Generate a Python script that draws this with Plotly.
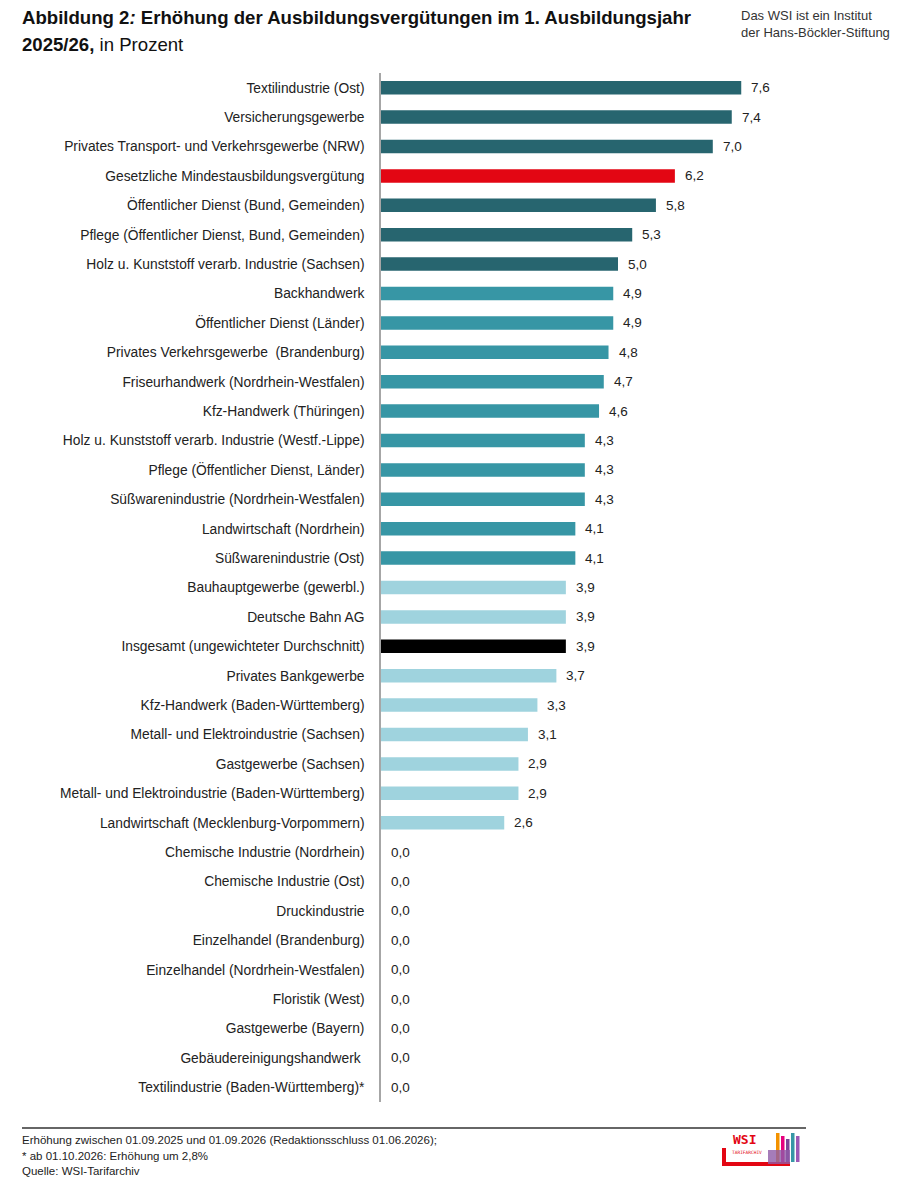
import plotly.graph_objects as go

# Branchen (von oben nach unten) und Erhöhung in Prozent
branchen = [
    "Textilindustrie (Ost)",
    "Versicherungsgewerbe",
    "Privates Transport- und Verkehrsgewerbe (NRW)",
    "Gesetzliche Mindestausbildungsvergütung",
    "Öffentlicher Dienst (Bund, Gemeinden)",
    "Pflege (Öffentlicher Dienst, Bund, Gemeinden)",
    "Holz u. Kunststoff verarb. Industrie (Sachsen)",
    "Backhandwerk",
    "Öffentlicher Dienst (Länder)",
    "Privates Verkehrsgewerbe  (Brandenburg)",
    "Friseurhandwerk (Nordrhein-Westfalen)",
    "Kfz-Handwerk (Thüringen)",
    "Holz u. Kunststoff verarb. Industrie (Westf.-Lippe)",
    "Pflege (Öffentlicher Dienst, Länder)",
    "Süßwarenindustrie (Nordrhein-Westfalen)",
    "Landwirtschaft (Nordrhein)",
    "Süßwarenindustrie (Ost)",
    "Bauhauptgewerbe (gewerbl.)",
    "Deutsche Bahn AG",
    "Insgesamt (ungewichteter Durchschnitt)",
    "Privates Bankgewerbe",
    "Kfz-Handwerk (Baden-Württemberg)",
    "Metall- und Elektroindustrie (Sachsen)",
    "Gastgewerbe (Sachsen)",
    "Metall- und Elektroindustrie (Baden-Württemberg)",
    "Landwirtschaft (Mecklenburg-Vorpommern)",
    "Chemische Industrie (Nordrhein)",
    "Chemische Industrie (Ost)",
    "Druckindustrie",
    "Einzelhandel (Brandenburg)",
    "Einzelhandel (Nordrhein-Westfalen)",
    "Floristik (West)",
    "Gastgewerbe (Bayern)",
    "Gebäudereinigungshandwerk ",
    "Textilindustrie (Baden-Württemberg)*",
]
erhoehung = [7.6, 7.4, 7.0, 6.2, 5.8, 5.3, 5.0, 4.9, 4.9, 4.8, 4.7, 4.6, 4.3, 4.3,
             4.3, 4.1, 4.1, 3.9, 3.9, 3.9, 3.7, 3.3, 3.1, 2.9, 2.9, 2.6,
             0.0, 0.0, 0.0, 0.0, 0.0, 0.0, 0.0, 0.0, 0.0]
# Farbgruppe je Balken
gruppe = ["dunkel"] * 3 + ["mindest"] + ["dunkel"] * 3 + ["mittel"] * 10 + \
         ["hell"] * 2 + ["gesamt"] + ["hell"] * 6 + ["hell"] * 9

farben = {"dunkel": "#27656f", "mittel": "#3796a5", "hell": "#9fd3de",
          "mindest": "#e30613", "gesamt": "#000000"}

fussnote = [
    "Erhöhung zwischen 01.09.2025 und 01.09.2026 (Redaktionsschluss 01.06.2026);",
    "* ab 01.10.2026: Erhöhung um 2,8%",
    "Quelle: WSI-Tarifarchiv",
]

# page size; the html body adds an 8px margin around the figure
W, H, OFF = 909, 1187, 8
FW, FH = W - 2 * OFF, H - 2 * OFF
# plot area in page pixels
L, R, T, B = 381, 800, 73, 1102
FONT = "Liberation Sans, Arial, sans-serif"


def px(x):
    return (x - L) / (R - L)


def py(y):
    return (B - y) / (B - T)


fig = go.Figure()
fig.add_trace(go.Bar(
    x=erhoehung, y=branchen, orientation="h",
    marker=dict(color=[farben[g] for g in gruppe], line=dict(width=0)),
    width=0.46, hoverinfo="skip",
))

annotations = []
for b, v in zip(branchen, erhoehung):
    annotations.append(dict(x=v, y=b, xref="x", yref="y", text=f"{v:.1f}".replace(".", ","),
                            showarrow=False, xanchor="left", xshift=8,
                            font=dict(size=13.5, color="#222222", family=FONT)))

# Titel
annotations.append(dict(
    x=px(20), y=py(18), xref="paper", yref="paper", xanchor="left", yanchor="middle",
    showarrow=False,
    text="<b>Abbildung 2<i>:</i> Erhöhung der Ausbildungsvergütungen im 1. Ausbildungsjahr</b>",
    font=dict(size=18.6, color="#111111", family=FONT)))
annotations.append(dict(
    x=px(20), y=py(45), xref="paper", yref="paper", xanchor="left", yanchor="middle",
    showarrow=False, text="<b>2025/26,</b> in Prozent",
    font=dict(size=18.6, color="#111111", family=FONT)))
# Hinweis oben rechts
annotations.append(dict(
    x=px(739), y=py(6), xref="paper", yref="paper", xanchor="left", yanchor="top",
    align="left", showarrow=False,
    text="Das WSI ist ein Institut<br>der Hans-Böckler-Stiftung",
    font=dict(size=13, color="#333333", family=FONT)))
# Fußnote
for i, zeile in enumerate(fussnote):
    annotations.append(dict(
        x=px(20), y=py(1140 + i * 15.5), xref="paper", yref="paper", xanchor="left",
        yanchor="middle", showarrow=False, text=zeile,
        font=dict(size=11.5, color="#222222", family=FONT)))
# Logo-Schrift
annotations.append(dict(
    x=px(731), y=py(1130), xref="paper", yref="paper", xanchor="left", yanchor="top",
    showarrow=False, text="<b>WSI</b>",
    font=dict(size=13, color="#e30613", family="DejaVu Sans Mono")))
annotations.append(dict(
    x=px(730), y=py(1148), xref="paper", yref="paper", xanchor="left", yanchor="top",
    showarrow=False, text="TARIFARCHIV",
    font=dict(size=4.5, color="#e30613", family="DejaVu Sans Mono")))

shapes = [
    # Trennlinie über der Fußnote
    dict(type="line", xref="paper", yref="paper", x0=px(22), x1=px(806),
         y0=py(1128), y1=py(1128), line=dict(color="#333333", width=1.5)),
    # Logo
    dict(type="rect", xref="paper", yref="paper", x0=px(722), x1=px(790),
         y0=py(1166), y1=py(1162), fillcolor="#e30613", line=dict(width=0)),
    dict(type="rect", xref="paper", yref="paper", x0=px(722), x1=px(726),
         y0=py(1166), y1=py(1148), fillcolor="#e30613", line=dict(width=0)),
]
for i, c in enumerate(["#f39200", "#e6007e", "#7b4397", "#3797a6", "#9b59b6"]):
    x0 = 776 + i * 5
    shapes.append(dict(type="rect", xref="paper", yref="paper", x0=px(x0), x1=px(x0 + 3.5),
                       y0=py(1162), y1=py(1133 + (i % 3) * 3), fillcolor=c, line=dict(width=0)))
shapes.append(dict(type="rect", xref="paper", yref="paper", x0=px(768), x1=px(790),
                   y0=py(1164), y1=py(1150), fillcolor="#8e5ba8", line=dict(width=0), opacity=0.8))

fig.update_layout(
    width=FW, height=FH,
    margin=dict(l=L - OFF, r=FW - (R - OFF), t=T - OFF, b=FH - (B - OFF)),
    paper_bgcolor="white", plot_bgcolor="white",
    showlegend=False,
    xaxis=dict(range=[0, (R - L) / 47.4], visible=False, fixedrange=True),
    yaxis=dict(autorange="reversed", showline=True, linecolor="#a6a6a6", linewidth=1.5,
               ticks="", ticklabelstandoff=12, showgrid=False, zeroline=False,
               tickfont=dict(size=13.8, color="#222222", family=FONT)),
    annotations=annotations,
    shapes=shapes,
)

fig.write_html("out.html")
